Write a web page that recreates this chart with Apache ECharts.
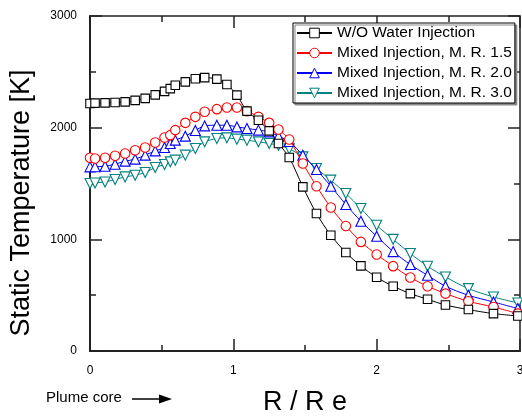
<!DOCTYPE html>
<html>
<head>
<meta charset="utf-8">
<script src="https://cdn.jsdelivr.net/npm/echarts@6/dist/echarts.min.js"></script>
<style>html,body{margin:0;padding:0;background:#fff}#c{width:522px;height:416px}</style>
</head>
<body>
<div id="c"></div>
<script>
// R / Re positions (shared by all series)
var rr = [0, 0.035, 0.105, 0.175, 0.245, 0.315, 0.385, 0.455, 0.52, 0.56, 0.595, 0.665, 0.735, 0.8, 0.885, 0.955, 1.025, 1.095, 1.175, 1.25, 1.315, 1.39, 1.485, 1.58, 1.68, 1.785, 1.89, 2.0, 2.115, 2.235, 2.355, 2.48, 2.64, 2.815, 2.985];
var seriesNames = ['W/O Water Injection', 'Mixed Injection, M. R. 1.5', 'Mixed Injection, M. R. 2.0', 'Mixed Injection, M. R. 3.0'];
var tWO = [2217, 2220, 2222, 2226, 2231, 2244, 2262, 2294, 2325, 2350, 2380, 2410, 2438, 2448, 2435, 2387, 2291, 2148, 2067, 1971, 1858, 1733, 1470, 1231, 1037, 882, 762, 660, 580, 514, 463, 412, 371, 335, 314];
var t15 = [1730, 1724, 1730, 1748, 1769, 1798, 1822, 1867, 1912, 1933, 1978, 2043, 2097, 2142, 2166, 2181, 2181, 2148, 2097, 2043, 1984, 1894, 1679, 1476, 1285, 1120, 977, 864, 760, 658, 580, 514, 445, 394, 335];
var t20 = [1649, 1650, 1655, 1673, 1700, 1718, 1754, 1792, 1822, 1858, 1888, 1924, 1975, 2016, 2022, 2022, 2007, 1993, 1978, 1962, 1924, 1876, 1754, 1625, 1476, 1312, 1162, 1028, 890, 774, 678, 580, 499, 439, 380];
var t30 = [1500, 1505, 1514, 1536, 1559, 1574, 1599, 1643, 1670, 1694, 1709, 1754, 1814, 1873, 1903, 1909, 1897, 1888, 1873, 1858, 1843, 1810, 1738, 1634, 1530, 1410, 1276, 1126, 1000, 873, 759, 663, 559, 484, 430];
var xTicks = [0, 1, 2, 3];
var yTicks = [0, 1000, 2000, 3000];

function pairs(ys) { return rr.map(function (x, i) { return [x, ys[i]]; }); }

var styles = [
  { color: '#000000', symbol: 'rect', size: 8.5, rot: 0 },
  { color: '#ff0000', symbol: 'circle', size: 9.5, rot: 0 },
  { color: '#0000ff', symbol: 'triangle', size: 10, rot: 0 },
  { color: '#008080', symbol: 'triangle', size: 10, rot: 180 }
];
var allData = [tWO, t15, t20, t30];

var chart = echarts.init(document.getElementById('c'), null, { renderer: 'canvas' });
var FONT = 'Liberation Sans, Arial, sans-serif';
function mkX(pos, show) {
  return {
    type: 'value', position: pos, min: xTicks[0], max: xTicks[xTicks.length - 1], interval: 1,
    axisLine: { show: true, onZero: false, lineStyle: { color: '#222', width: pos === 'bottom' ? 2 : 1.5 } },
    axisTick: { show: true, inside: true, length: 12, lineStyle: { color: '#222', width: 1.5 } },
    minorTick: { show: true, splitNumber: 2, length: 6, lineStyle: { color: '#222', width: 1.5 } },
    splitLine: { show: false },
    axisLabel: { show: show, margin: 14, showMaxLabel: true, showMinLabel: true, hideOverlap: false,
      fontFamily: FONT, fontSize: 12, color: '#000', formatter: function (v) { return String(v); } }
  };
}
function mkY(pos, show) {
  return {
    type: 'value', position: pos, min: yTicks[0], max: yTicks[yTicks.length - 1], interval: 1000,
    axisLine: { show: true, onZero: false, lineStyle: { color: '#222', width: pos === 'left' ? 2 : 1.5 } },
    axisTick: { show: true, inside: true, length: 12, lineStyle: { color: '#222', width: 1.5 } },
    minorTick: { show: true, splitNumber: 2, length: 6, lineStyle: { color: '#222', width: 1.5 } },
    splitLine: { show: false },
    axisLabel: { show: show, margin: 13, fontFamily: FONT, fontSize: 12, color: '#000', formatter: function (v) { return String(v); } }
  };
}

var series = seriesNames.map(function (n, i) {
  var s = styles[i];
  return {
    type: 'line', name: n, data: pairs(allData[i]), xAxisIndex: 0, yAxisIndex: 0,
    smooth: 0.3, symbol: s.symbol, symbolSize: s.size, symbolRotate: s.rot, showAllSymbol: true,
    lineStyle: { color: s.color, width: 1 },
    itemStyle: { color: '#ffffff', borderColor: s.color, borderWidth: 1.1 },
    emphasis: { disabled: true }, z: 10 - i
  };
});

chart.setOption({
  animation: false,
  backgroundColor: '#fff',
  grid: { left: 90, right: 2, top: 16, bottom: 65, containLabel: false, outerBoundsMode: 'none' },
  xAxis: [mkX('bottom', true), mkX('top', false)],
  yAxis: [mkY('left', true), mkY('right', false)],
  legend: {
    orient: 'vertical', left: 293, top: 23,
    itemWidth: 35, itemHeight: 12, itemGap: 4, itemTextGap: 4,
    padding: [2, 3, 2, 3],
    backgroundColor: '#fff', borderColor: '#000', borderWidth: 1,
    shadowColor: '#888', shadowOffsetX: 2, shadowOffsetY: 2, shadowBlur: 0,
    itemStyle: { borderWidth: 1 },
    textStyle: { fontFamily: FONT, fontSize: 15.5, color: '#000', lineHeight: 16 },
    data: seriesNames
  },
  graphic: [
    { type: 'text', x: 22, y: 203, rotation: Math.PI / 2,
      style: { text: 'Static Temperature [K]', fontFamily: FONT, fontSize: 27, fill: '#000', align: 'center', verticalAlign: 'middle' } },
    { type: 'text', x: 305, y: 403,
      style: { text: 'R / R e', fontFamily: FONT, fontSize: 27, fill: '#000', align: 'center', verticalAlign: 'middle' } },
    { type: 'text', x: 46, y: 398,
      style: { text: 'Plume core', fontFamily: FONT, fontSize: 15, fill: '#000', align: 'left', verticalAlign: 'middle' } },
    { type: 'line', shape: { x1: 132, y1: 399, x2: 162, y2: 399 }, style: { stroke: '#000', lineWidth: 1.5 } },
    { type: 'polygon', shape: { points: [[159, 394.5], [172, 399], [159, 403.5]] }, style: { fill: '#000' } }
  ],
  series: series
});
</script>
</body>
</html>
